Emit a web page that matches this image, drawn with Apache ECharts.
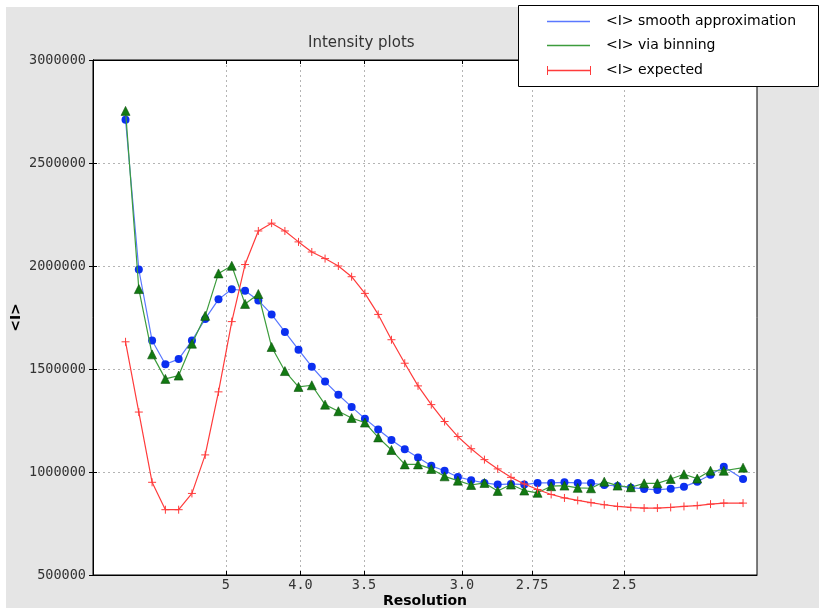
<!DOCTYPE html>
<html lang="en">
<head>
<meta charset="UTF-8">
<title>Intensity plots</title>
<style>
    * {
        margin: 0;
        padding: 0;
    }

    html,
    body {
        width: 819px;
        height: 608px;
        overflow: hidden;
        background: #fff;
    }

    #bg {
        position: absolute;
        left: 6px;
        top: 7px;
        right: 0;
        bottom: 0;
        background: #e5e5e5;
    }

    #chart {
        position: absolute;
        left: 0;
        top: 0;
        width: 819px;
        height: 608px;
    }
</style>
</head>
<body>
<div id="bg"></div>
<div id="chart"></div>
<script src="https://cdn.jsdelivr.net/npm/echarts@6.0.0/dist/echarts.min.js"></script>
<script>
    // x positions of the bins, in 1/d^2 (the axis is drawn in 1/d^2, labelled in d)
    let binS = [0.0098, 0.0138, 0.0178, 0.0218, 0.0258, 0.0298, 0.0338, 0.0378, 0.0418, 0.0458,
        0.0498, 0.0538, 0.0578, 0.0619, 0.0659, 0.0699, 0.0739, 0.0779, 0.0819, 0.0859,
        0.0899, 0.0939, 0.0979, 0.1019, 0.1059, 0.1099, 0.1139, 0.1179, 0.1219, 0.1259,
        0.1299, 0.1339, 0.1380, 0.1420, 0.1460, 0.1500, 0.1540, 0.1580, 0.1620, 0.1660,
        0.1700, 0.1740, 0.1780, 0.1820, 0.1860, 0.1900, 0.1958];

    let smoothI = [2710000, 1983000, 1638000, 1523000, 1548000, 1638000, 1743000, 1838000, 1887000, 1880000,
        1833000, 1765000, 1680000, 1594000, 1511000, 1439000, 1375000, 1316000, 1259000, 1206000,
        1155000, 1110000, 1070000, 1030000, 1006000, 976000, 960000, 947000, 939000, 942000,
        939000, 947000, 947000, 950000, 947000, 946000, 937000, 932000, 924000, 918000,
        913000, 919000, 929000, 953000, 987000, 1026000, 966000];

    let binnedI = [2753000, 1888000, 1571000, 1452000, 1468000, 1623000, 1758000, 1964000, 2001000, 1816000,
        1864000, 1607000, 1490000, 1413000, 1421000, 1327000, 1295000, 1262000, 1240000, 1168000,
        1107000, 1037000, 1037000, 1015000, 979000, 958000, 937000, 947000, 908000, 939000,
        910000, 899000, 931000, 934000, 923000, 921000, 953000, 934000, 926000, 945000,
        945000, 966000, 989000, 968000, 1006000, 1006000, 1021000];

    let expectedI = [1632000, 1291000, 950000, 817000, 817000, 896000, 1083000, 1389000, 1730000, 2007000,
        2170000, 2208000, 2170000, 2117000, 2068000, 2036000, 2000000, 1948000, 1867000, 1765000,
        1642000, 1528000, 1418000, 1327000, 1245000, 1172000, 1113000, 1060000, 1015000, 974000,
        942000, 915000, 891000, 874000, 862000, 851000, 841000, 833000, 828000, 825000,
        825000, 828000, 833000, 837000, 844000, 849000, 849000];

    let tickLabels = ['5', '4.0', '3.5', '3.0', '2.75', '2.5'];
    let seriesNames = ['<I> smooth approximation', '<I> via binning', '<I> expected'];

    let tickS = tickLabels.map(t => 1 / (parseFloat(t) * parseFloat(t)));

    function pairs(ys) {
        return binS.map((s, i) => [s, ys[i]]);
    }

    function resLabel(v) {
        let best = 0;
        tickS.forEach((s, i) => {
            if (Math.abs(s - v) < Math.abs(tickS[best] - v)) best = i;
        });
        return tickLabels[best];
    }

    let monoFont = '"DejaVu Sans Mono", monospace';
    let sansFont = '"DejaVu Sans", sans-serif';
    let plusPath = 'path://M4,0 L4,8 M0,4 L8,4';

    // legend box, drawn the way the original figure shows it
    let legendRows = [21, 45, 70];
    let legendColors = ['#5a78ff', '#3c9c3c', '#ff3b3b'];
    let legendGraphic = [{
        type: 'rect',
        shape: { x: 518.5, y: 5.5, width: 300, height: 81 },
        style: { fill: '#fff', stroke: '#000', lineWidth: 1 },
        z: 10
    }];
    legendRows.forEach((y, i) => {
        legendGraphic.push({
            type: 'line',
            shape: { x1: 547, y1: y + 0.5, x2: 590, y2: y + 0.5 },
            style: { stroke: legendColors[i], lineWidth: 1.4 },
            z: 11
        });
        legendGraphic.push({
            type: 'text',
            x: 606,
            y: y,
            style: {
                text: seriesNames[i],
                fill: '#000',
                fontSize: 14,
                fontFamily: sansFont,
                verticalAlign: 'middle'
            },
            z: 11
        });
    });
    [547, 590].forEach(x => {
        legendGraphic.push({
            type: 'line',
            shape: { x1: x + 0.5, y1: legendRows[2] - 4, x2: x + 0.5, y2: legendRows[2] + 5 },
            style: { stroke: legendColors[2], lineWidth: 1 },
            z: 11
        });
    });

    let option = {
        animation: false,
        title: {
            text: 'Intensity plots',
            left: 308,
            top: 36,
            padding: 0,
            textStyle: {
                fontSize: 15,
                fontWeight: 'normal',
                color: '#333',
                fontFamily: sansFont
            }
        },
        graphic: legendGraphic,
        grid: {
            left: 93,
            top: 60,
            right: 62,
            bottom: 33,
            outerBoundsMode: 'none',
            containLabel: false,
            show: true,
            backgroundColor: '#fff',
            borderColor: '#000',
            borderWidth: 1
        },
        xAxis: [{
            type: 'value',
            min: 0,
            max: 0.2,
            name: 'Resolution',
            nameLocation: 'middle',
            nameGap: 19,
            nameMoveOverlap: false,
            nameTextStyle: {
                fontSize: 14,
                fontWeight: 'bold',
                color: '#000',
                fontFamily: sansFont
            },
            axisLine: { lineStyle: { color: '#000' } },
            axisTick: { inside: true, length: 4, lineStyle: { color: '#000' }, customValues: tickS },
            axisLabel: {
                customValues: tickS,
                formatter: resLabel,
                margin: 3,
                fontSize: 13.5,
                color: '#333',
                fontFamily: monoFont
            },
            splitLine: { show: true, lineStyle: { color: '#b4b4b4', type: [2, 3] } }
        }, {
            type: 'value',
            position: 'top',
            min: 0,
            max: 0.2,
            axisLine: { lineStyle: { color: '#000' } },
            axisTick: { inside: true, length: 4, lineStyle: { color: '#000' }, customValues: tickS },
            axisLabel: { show: false },
            splitLine: { show: false }
        }],
        yAxis: [{
            type: 'value',
            min: 500000,
            max: 3000000,
            interval: 500000,
            name: '<I>',
            nameLocation: 'middle',
            nameGap: 70,
            nameMoveOverlap: false,
            nameTextStyle: {
                fontSize: 14,
                fontWeight: 'bold',
                color: '#000',
                fontFamily: sansFont
            },
            axisLine: { show: true, lineStyle: { color: '#000' } },
            axisTick: { show: true, inside: true, length: 4, lineStyle: { color: '#000' } },
            axisLabel: {
                margin: 7,
                fontSize: 13.5,
                color: '#333',
                fontFamily: monoFont,
                formatter: v => String(v)
            },
            splitLine: { show: true, lineStyle: { color: '#b4b4b4', type: [2, 3] } }
        }, {
            type: 'value',
            position: 'right',
            min: 500000,
            max: 3000000,
            interval: 500000,
            axisLine: { show: true, lineStyle: { color: '#000' } },
            axisTick: { show: true, inside: true, length: 4, lineStyle: { color: '#000' } },
            axisLabel: { show: false },
            splitLine: { show: false }
        }],
        series: [{
            name: seriesNames[0],
            type: 'line',
            data: pairs(smoothI),
            symbol: 'circle',
            symbolSize: 8,
            itemStyle: { color: '#0b2ff0' },
            lineStyle: { color: legendColors[0], width: 1.2 },
            z: 2
        }, {
            name: seriesNames[1],
            type: 'line',
            data: pairs(binnedI),
            symbol: 'triangle',
            symbolSize: 9,
            itemStyle: { color: '#127a12', borderColor: '#0b4f0b', borderWidth: 0.6 },
            lineStyle: { color: legendColors[1], width: 1.2 },
            z: 3
        }, {
            name: seriesNames[2],
            type: 'line',
            data: pairs(expectedI),
            symbol: plusPath,
            symbolSize: 8,
            itemStyle: { color: 'none', borderColor: legendColors[2], borderWidth: 1 },
            lineStyle: { color: legendColors[2], width: 1.2 },
            z: 4
        }]
    };

    let myChart = echarts.init(document.getElementById('chart'));
    myChart.setOption(option, true);
</script>
</body>
</html>
